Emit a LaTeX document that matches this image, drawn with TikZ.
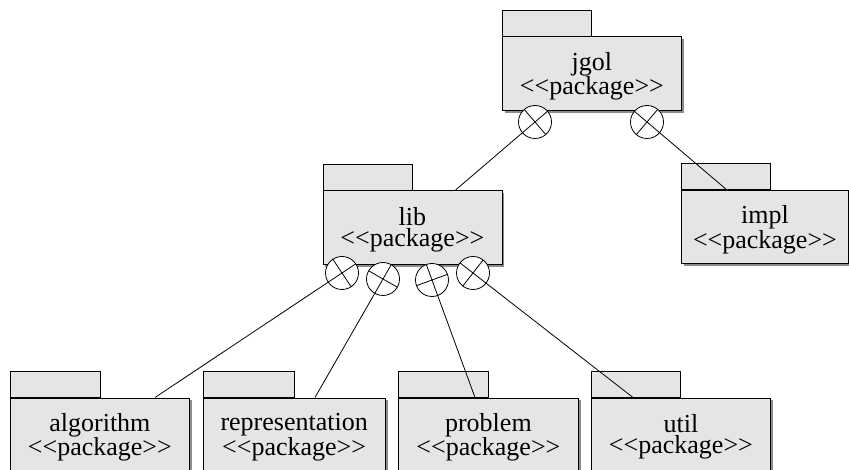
\documentclass[tikz,border=0pt]{standalone}
\usepackage{fontspec}
\setmainfont{Liberation Serif}
\usetikzlibrary{calc,shadows}
\definecolor{pkgfill}{HTML}{E5E5E5}
\definecolor{pkgshade}{HTML}{8C8C8C}
\newcommand\stereotype{<\kern0pt<package>\kern0pt>}
\begin{document}
\begin{tikzpicture}[x=1pt,y=-1pt,
  pkgbody/.style={draw, line width=0.8pt, fill=pkgfill, anchor=north west, inner sep=0pt,
    minimum height=73.5pt,
    drop shadow={shadow xshift=2.5pt, shadow yshift=-2.5pt, fill=pkgshade, opacity=1}},
  pkgtab/.style={draw, line width=0.8pt, fill=pkgfill, anchor=south west, inner sep=0pt,
    minimum height=26pt},
  lbl/.style={align=center, inner sep=0pt, font=\fontsize{26}{21}\selectfont},
  nest/.style={circle, draw, fill=white, minimum size=33pt, inner sep=0pt, line width=0.8pt},
  conn/.style={line width=0.8pt}]
\useasboundingbox[fill=white] (0,0) rectangle (849,470);

% packages
\node[pkgtab, minimum width=89pt] (jgolTab) at (502,36.5) {};
\node[pkgbody, minimum width=179pt] (jgol) at (502,36.5) {};
\node[lbl] (jgolL) at ([yshift=-2.5pt]jgol.center) {jgol\\\stereotype};

\node[pkgtab, minimum width=89.5pt] (libTab) at (322.5,190.5) {};
\node[pkgbody, minimum width=179pt] (lib) at (322.5,190.5) {};
\node[lbl] (libL) at ([yshift=-2.5pt]lib.center) {lib\\\stereotype};

\node[pkgtab, minimum width=89pt] (implTab) at (681,190) {};
\node[pkgbody, minimum width=167pt] (impl) at (681,190) {};
\node[lbl] (implL) at ([yshift=-2.5pt]impl.center) {impl\\\stereotype};

\node[pkgtab, minimum width=89.5pt] (algTab) at (10,397.5) {};
\node[pkgbody, minimum width=179pt] (alg) at (10,397.5) {};
\node[lbl] (algL) at ([yshift=-2.5pt]alg.center) {algorithm\\\stereotype};

\node[pkgtab, minimum width=91.5pt] (repTab) at (202.5,397.5) {};
\node[pkgbody, minimum width=182.5pt] (rep) at (202.5,397.5) {};
\node[lbl] (repL) at ([yshift=-2.5pt]rep.center) {representation\\\stereotype};

\node[pkgtab, minimum width=89.5pt] (probTab) at (398,397.5) {};
\node[pkgbody, minimum width=180pt] (prob) at (398,397.5) {};
\node[lbl] (probL) at ([yshift=-2.5pt]prob.center) {problem\\\stereotype};

\node[pkgtab, minimum width=89pt] (utilTab) at (591,397.5) {};
\node[pkgbody, minimum width=179pt] (util) at (591,397.5) {};
\node[lbl] (utilL) at ([yshift=-2.5pt]util.center) {util\\\stereotype};

% nesting circles
\node[nest] (jc1) at (535,122) {};
\node[nest] (jc2) at (647,122) {};
\node[nest] (lc1) at (342,273) {};
\node[nest] (lc2) at (383,279) {};
\node[nest] (lc3) at (432,280) {};
\node[nest] (lc4) at (473,273) {};

% connector ends
\coordinate (ej1) at (455,190.5);
\coordinate (ej2) at (727,190);
\coordinate (el1) at (155,397.5);
\coordinate (el2) at (315,397.5);
\coordinate (el3) at (475,397.5);
\coordinate (el4) at (633,397.5);

% connectors with crosses
\foreach \c/\e in {jc1/ej1, jc2/ej2, lc1/el1, lc2/el2, lc3/el3, lc4/el4}{
  \draw[conn] ($(\c.center)!16.5pt!180:(\e)$) -- (\e);
  \draw[conn] ($(\c.center)!16.5pt!90:(\e)$) -- ($(\c.center)!16.5pt!-90:(\e)$);
}
\end{tikzpicture}
\end{document}
